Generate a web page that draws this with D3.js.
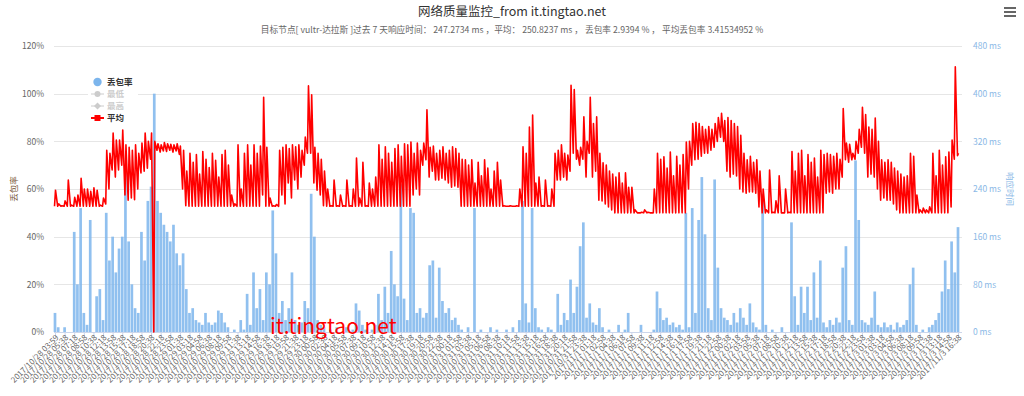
<!DOCTYPE html>
<html>
<head>
<meta charset="utf-8">
<script src="https://cdn.jsdelivr.net/npm/d3@7"></script>
<style>
body{margin:0;background:#fff}
text{font-family:"Noto Sans CJK SC","Noto Sans",sans-serif}
</style>
</head>
<body>
<svg width="1024" height="396"></svg>
<script>

// 平均响应时间 (ms): highest and lowest reading inside each slot, 3 slots per tick
var avgMax = [
 238,215,212,220,255,213,226,230,258,240,
 240,236,242,238,213,225,305,300,334,322,
 322,339,314,310,305,314,300,317,334,320,
 334,320,316,314,318,316,315,314,316,312,
 305,270,300,285,298,265,303,290,276,300,
 288,260,298,305,280,230,215,314,240,300,
 314,280,314,300,312,394,310,225,212,214,
 305,310,314,308,314,311,314,305,327,413,
 398,310,300,290,270,240,212,255,212,230,
 212,255,212,240,292,225,285,212,250,240,
 260,314,290,311,300,285,308,314,295,316,
 314,319,300,317,305,317,373,310,312,300,
 305,311,300,305,311,308,300,290,289,280,
 289,250,285,262,289,275,240,270,285,255,
 212,211,212,211,212,240,311,300,344,364,
 250,260,212,255,212,240,300,305,314,300,
 297,414,407,305,310,361,320,394,350,361,
 300,284,280,270,265,260,267,250,267,243,
 243,205,200,201,205,201,200,240,300,290,
 294,275,302,262,295,280,298,319,320,350,
 352,350,345,340,345,340,350,360,367,355,
 360,355,350,345,330,300,289,295,285,289,
 270,240,205,272,201,220,262,200,240,201,
 303,270,300,305,262,298,285,292,260,305,
 298,300,298,295,300,290,375,317,315,300,
 320,340,377,365,344,340,359,320,289,285,
 289,285,275,270,265,260,262,300,295,230,
 205,208,205,210,300,262,305,280,294,302,
 322,445,300
]

var avgMin = [
 211,211,211,211,211,211,211,211,211,211,
 211,211,211,211,211,211,215,240,272,260,
 272,280,230,221,225,222,240,267,270,275,
 290,0,305,302,304,303,305,302,304,298,
 240,212,211,211,211,211,211,211,211,211,
 211,211,211,211,211,211,211,211,211,211,
 211,211,211,211,211,230,211,211,211,211,
 211,230,215,250,225,255,240,260,280,300,
 300,250,238,230,212,211,211,211,211,211,
 211,211,211,211,211,211,211,211,211,211,
 211,211,211,211,211,211,211,211,211,211,
 211,211,230,240,230,280,289,260,270,255,
 255,258,255,250,243,245,243,211,211,211,
 211,211,211,211,211,211,211,211,211,211,
 211,211,211,211,211,211,211,211,211,211,
 211,211,211,211,211,211,211,255,255,260,
 255,270,300,290,280,290,260,300,260,270,
 221,220,215,210,205,200,200,200,200,200,
 200,200,200,200,200,200,200,200,200,200,
 200,200,200,200,200,200,200,200,240,280,
 289,290,295,300,300,305,310,320,327,320,
 270,260,265,262,240,235,233,235,235,233,
 210,200,200,200,200,200,200,200,200,200,
 200,200,200,200,200,200,200,200,200,200,
 200,233,235,233,240,240,260,289,285,289,
 290,300,310,300,260,265,260,240,221,225,
 221,221,215,205,200,200,200,200,200,200,
 200,200,200,200,200,200,200,200,200,200,
 210,290,296
]

// 丢包率 (%)
var lossPct = [
 8,2,0,2,0,0,42,20,52,8,
 3,47,0,15,18,5,50,30,40,25,
 35,40,67,38,20,10,8,42,30,55,
 61,100,55,50,45,42,38,45,33,28,
 33,18,8,10,5,4,3,8,4,3,
 4,9,8,4,2,0,1,0,5,1,
 16,3,25,10,18,5,25,20,51,33,
 8,13,5,10,25,5,3,4,13,10,
 58,40,5,3,2,0,1,0,2,0,
 0,2,0,1,12,9,3,1,0,1,
 3,16,5,19,8,34,20,15,62,14,
 5,52,50,8,10,6,8,28,30,6,
 27,13,8,10,5,6,3,1,0,2,
 0,52,0,1,0,0,2,0,1,0,
 0,1,0,2,0,5,55,12,4,52,
 10,2,1,0,2,1,0,16,3,8,
 5,22,8,19,36,46,6,12,4,3,
 10,2,0,1,0,0,3,0,1,8,
 0,0,0,3,0,0,0,1,17,10,
 5,6,3,4,2,3,1,50,2,52,
 8,47,65,41,10,5,64,27,10,6,
 5,3,8,4,10,6,3,12,4,2,
 1,58,3,0,1,0,0,2,0,0,
 46,15,3,19,8,19,5,25,6,30,
 4,2,5,3,6,4,27,36,5,3,
 72,47,5,4,3,6,17,3,2,4,
 2,3,1,4,2,3,5,20,27,3,
 0,1,0,2,3,5,8,17,30,18,
 38,25,44
]

var tickLabels = [
 "2017/10/28 03:59","2017/10/28 05:38","2017/10/28 07:18","2017/10/28 08:58","2017/10/28 10:38",
 "2017/10/28 12:18","2017/10/28 13:58","2017/10/28 15:38","2017/10/28 17:18","2017/10/28 18:58",
 "2017/10/28 20:38","2017/10/28 22:18","2017/10/28 23:58",
 "2017/10/29 01:38","2017/10/29 03:18","2017/10/29 04:58","2017/10/29 06:38","2017/10/29 08:18",
 "2017/10/29 09:58","2017/10/29 11:38","2017/10/29 13:18","2017/10/29 14:58","2017/10/29 16:38",
 "2017/10/29 18:18","2017/10/29 19:58","2017/10/29 21:38","2017/10/29 23:18",
 "2017/10/30 00:58","2017/10/30 02:38","2017/10/30 04:18","2017/10/30 05:58","2017/10/30 07:38",
 "2017/10/30 09:18","2017/10/30 10:58","2017/10/30 12:38","2017/10/30 14:18","2017/10/30 15:58",
 "2017/10/30 17:38","2017/10/30 19:18","2017/10/30 20:58","2017/10/30 22:38",
 "2017/10/31 00:18","2017/10/31 01:58","2017/10/31 03:38","2017/10/31 05:18","2017/10/31 06:58",
 "2017/10/31 08:38","2017/10/31 10:18","2017/10/31 11:58","2017/10/31 13:38","2017/10/31 15:18",
 "2017/10/31 16:58","2017/10/31 18:38","2017/10/31 20:18","2017/10/31 21:58","2017/10/31 23:38",
 "2017/11/1 01:18","2017/11/1 02:58","2017/11/1 04:38","2017/11/1 06:18","2017/11/1 07:58",
 "2017/11/1 09:38","2017/11/1 11:18","2017/11/1 12:58","2017/11/1 14:38","2017/11/1 16:18",
 "2017/11/1 17:58","2017/11/1 19:38","2017/11/1 21:18","2017/11/1 22:58",
 "2017/11/2 00:38","2017/11/2 02:18","2017/11/2 03:58","2017/11/2 05:38","2017/11/2 07:18",
 "2017/11/2 08:58","2017/11/2 10:38","2017/11/2 12:18","2017/11/2 13:58","2017/11/2 15:38",
 "2017/11/2 17:18","2017/11/2 18:58","2017/11/2 20:38","2017/11/2 22:18","2017/11/2 23:58",
 "2017/11/3 01:38","2017/11/3 03:18","2017/11/3 04:58","2017/11/3 06:38","2017/11/3 08:18",
 "2017/11/3 09:58","2017/11/3 11:38","2017/11/3 13:18","2017/11/3 14:58","2017/11/3 16:38"
]

var lossTicks = [0,20,40,60,80,100,120]
var msTicks = [0,80,160,240,320,400,480]
var slotsPerTick = 3

var legendItems = [
 {name:"丢包率", color:"#7cb5ec", shown:true, marker:"circle"},
 {name:"最低", color:"#cccccc", shown:false, marker:"circle"},
 {name:"最高", color:"#cccccc", shown:false, marker:"diamond"},
 {name:"平均", color:"#ff0000", shown:true, marker:"square"}
]

var plot = {left:54, right:962, top:46, bottom:332}

var svg = d3.select("svg")

svg.append("rect").attr("width",1024).attr("height",396).attr("fill","#fff")

var xScale = d3.scaleLinear()
 .domain([0, avgMax.length-1])
 .range([55, 958])

var yLoss = d3.scaleLinear().domain([0,120]).range([plot.bottom, plot.top])
var yMs = d3.scaleLinear().domain([0,480]).range([plot.bottom, plot.top])

// grid
svg.append("g")
 .selectAll("line")
 .data(lossTicks.slice(1))
 .enter()
 .append("line")
 .attr("x1",plot.left).attr("x2",plot.right)
 .attr("y1",function(d){return Math.round(yLoss(d))+0.5})
 .attr("y2",function(d){return Math.round(yLoss(d))+0.5})
 .attr("stroke","#e6e6e6")

// left axis
var leftAxis = svg.append("g").attr("transform","translate(47,0)")
 .call(d3.axisLeft(yLoss).tickValues(lossTicks).tickSize(0).tickFormat(function(d){return d+"%"}))
leftAxis.select(".domain").remove()
leftAxis.selectAll("text")
 .attr("fill","#666").attr("font-size","8.5px")
 .attr("font-family","'Noto Sans','Noto Sans CJK SC',sans-serif")

// right axis
var rightAxis = svg.append("g").attr("transform","translate(970,0)")
 .call(d3.axisRight(yMs).tickValues(msTicks).tickSize(0).tickFormat(function(d){return d+" ms"}))
rightAxis.select(".domain").remove()
rightAxis.selectAll("text")
 .attr("fill","#8ab8e6").attr("font-size","8.5px")
 .attr("font-family","'Noto Sans','Noto Sans CJK SC',sans-serif")

// loss bars
var slotW = xScale(1)-xScale(0)
svg.append("g")
 .selectAll("rect")
 .data(lossPct)
 .enter()
 .append("rect")
 .attr("x",function(d,i){return xScale(i)-slotW*0.42})
 .attr("width",slotW*0.84)
 .attr("y",function(d){return yLoss(d)})
 .attr("height",function(d){return plot.bottom-yLoss(d)})
 .attr("fill","#7cb5ec")
 .attr("opacity",0.85)

// x axis
var tickIdx = tickLabels.map(function(t,k){return k*slotsPerTick})
var xAxis = svg.append("g").attr("transform","translate(0,"+(plot.bottom+0.5)+")")
 .call(d3.axisBottom(xScale).tickValues(tickIdx).tickSize(5)
   .tickFormat(function(d){return tickLabels[d/slotsPerTick]}))
xAxis.select(".domain").attr("d","M"+plot.left+",0H"+plot.right).attr("stroke","#ccd6eb")
xAxis.selectAll(".tick line").attr("stroke","#ccd6eb")
xAxis.selectAll("text")
 .attr("fill","#666").attr("font-size","8px")
 .attr("font-family","'Noto Sans','Noto Sans CJK SC',sans-serif")
 .attr("text-anchor","end")
 .attr("dy","0.3em")
 .attr("transform","translate(2,4) rotate(-45)")
 .attr("y",0).attr("x",0)

// avg line: inside each slot the line climbs from its low to its high reading
var avgPoints = []
avgMax.forEach(function(hi,i){
 avgPoints.push([xScale(i)-0.5, avgMin[i]])
 avgPoints.push([xScale(i)+0.5, hi])
})
var line = d3.line()
 .x(function(p){return p[0]})
 .y(function(p){return yMs(p[1])})
svg.append("path")
 .datum(avgPoints)
 .attr("d",line)
 .attr("fill","none")
 .attr("stroke","#ff0000")
 .attr("stroke-width",1.6)
 .attr("stroke-linejoin","round")

// watermark
svg.append("text")
 .attr("x",270).attr("y",334)
 .attr("font-size","21px")
 .attr("font-family","'Liberation Sans',Arial,sans-serif")
 .attr("fill","#ff0000")
 .text("it.tingtao.net")

// title + subtitle
svg.append("text")
 .attr("x",512).attr("y",16)
 .attr("text-anchor","middle")
 .attr("font-size","12.5px")
 .attr("fill","#333")
 .text("网络质量监控_from it.tingtao.net")

svg.append("text")
 .attr("x",512).attr("y",33)
 .attr("text-anchor","middle")
 .attr("font-size","8.7px")
 .attr("fill","#666")
 .text("目标节点[ vultr-达拉斯 ]过去 7 天响应时间： 247.2734 ms ，平均： 250.8237 ms ， 丢包率 2.9394 % ， 平均丢包率 3.41534952 %")

// axis titles
svg.append("text")
 .attr("transform","translate(17,189) rotate(-90)")
 .attr("text-anchor","middle")
 .attr("font-size","8.5px")
 .attr("fill","#7a5a3a")
 .text("丢包率")

svg.append("text")
 .attr("transform","translate(1007,189) rotate(90)")
 .attr("text-anchor","middle")
 .attr("font-size","8.5px")
 .attr("fill","#8ab8e6")
 .text("响应时间")

// legend
var legend = svg.append("g").attr("transform","translate(88,75)")
legend.append("rect").attr("width",50).attr("height",49).attr("fill","#fff")
var item = legend.selectAll("g")
 .data(legendItems)
 .enter()
 .append("g")
 .attr("transform",function(d,i){return "translate(0,"+(7+i*12)+")"})
item.filter(function(d){return d.marker!="circle" || !d.shown})
 .append("line")
 .attr("x1",3).attr("x2",16)
 .attr("stroke",function(d){return d.color})
 .attr("stroke-width",function(d){return d.shown?2:1})
item.append("path")
 .attr("transform","translate(9.5,0)")
 .attr("d",function(d){
   if(d.marker=="square") return "M-3,-3H3V3H-3Z"
   if(d.marker=="diamond") return "M0,-3.5L3.5,0L0,3.5L-3.5,0Z"
   var r = d.shown?4.2:3
   return "M"+(-r)+",0A"+r+","+r+" 0 1,0 "+r+",0A"+r+","+r+" 0 1,0 "+(-r)+",0"
 })
 .attr("fill",function(d){return d.color})
item.append("text")
 .attr("x",19).attr("dy","0.35em")
 .attr("font-size","8.5px")
 .attr("font-weight","bold")
 .attr("fill",function(d){return d.shown?"#333":"#ccc"})
 .text(function(d){return d.name})

// menu icon
svg.append("g")
 .selectAll("line")
 .data([8,12,16])
 .enter()
 .append("line")
 .attr("x1",1004).attr("x2",1016)
 .attr("y1",function(d){return d}).attr("y2",function(d){return d})
 .attr("stroke","#666").attr("stroke-width",2)

</script>
</body>
</html>
